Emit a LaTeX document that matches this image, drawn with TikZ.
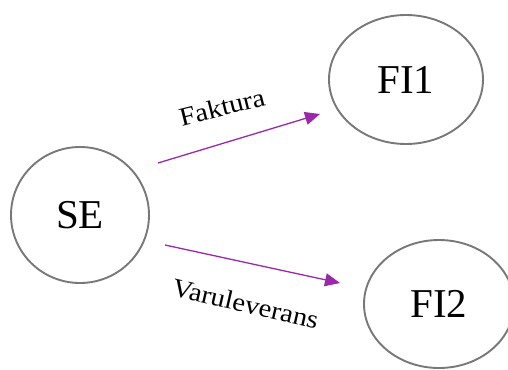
\documentclass[tikz,border=0pt]{standalone}
\usepackage{fontspec}
\setmainfont{Liberation Serif}
\usetikzlibrary{shapes.geometric,arrows.meta}
\definecolor{bordgray}{RGB}{120,120,120}
\definecolor{arrpurple}{RGB}{155,40,170}
\tikzset{
  entity/.style={draw=bordgray, line width=1.9pt, ellipse, inner sep=0pt, font=\fontsize{41}{45}\selectfont},
  flow/.style={draw=arrpurple, line width=1.3pt, -{Triangle[length=15pt,width=13pt]}},
  flowlabel/.style={font=\fontsize{26}{30}\selectfont, inner sep=0pt}
}
\begin{document}
\begin{tikzpicture}[x=1pt,y=-1pt]
\useasboundingbox (0,0) rectangle (508,369);
\node[entity, minimum width=138pt, minimum height=136pt] (se) at (80,215) {SE};
\node[entity, minimum width=154pt, minimum height=129pt] (fi1) at (406,79.5) {FI1};
\node[entity, minimum width=150pt, minimum height=128pt] (fi2) at (439,304) {FI2};
\coordinate (a1s) at (158,163);
\coordinate (a1e) at (320,114);
\coordinate (a2s) at (165,245);
\coordinate (a2e) at (340,283);
\draw[flow] (a1s) -- (a1e);
\draw[flow] (a2s) -- (a2e);
\node[flowlabel, rotate=14] (lf) at (222,107) {\scalebox{1.1}[1]{Faktura}};
\node[flowlabel, rotate=-13] (lv) at (245.5,304) {\scalebox{1.1}[1]{Varuleverans}};
\end{tikzpicture}
\end{document}
